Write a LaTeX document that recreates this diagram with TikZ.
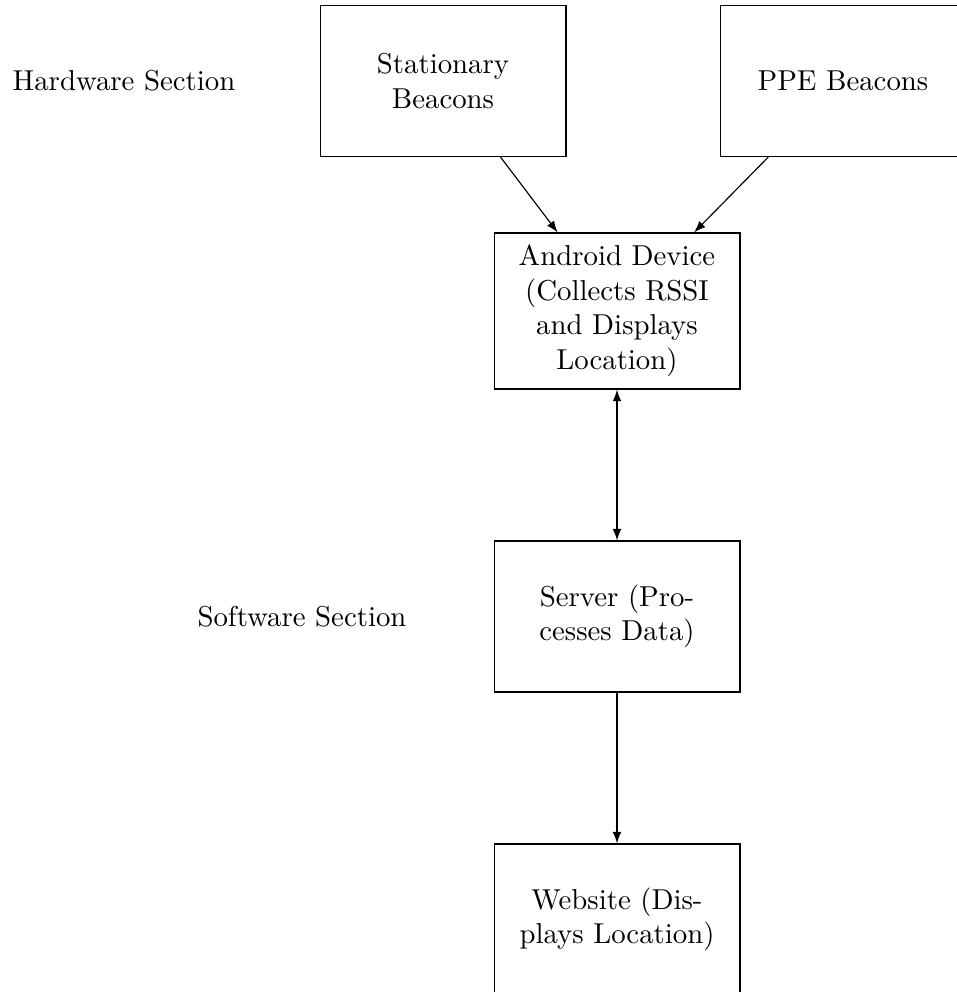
\documentclass[tikz,border=0pt]{standalone}
\usetikzlibrary{arrows.meta}
\begin{document}
\begin{tikzpicture}[x=0.34722pt,y=-0.34722pt,
  box/.style={draw, text width=2.5cm, align=center, minimum width=3cm, minimum height=52.4pt},
  arr/.style={-latex},
  lbl/.style={inner sep=0pt}]
\useasboundingbox (0,0) rectangle (957,992);
\node[box] (stat) at (443,81) {Stationary\\Beacons};
\node[box] (ppe) at (843,81) {PPE Beacons};
\node[box, minimum height=54.2pt] (andr) at (617,311) {Android Device\\(Collects RSSI\\and Displays\\Location)};
\node[box] (srv) at (617,616.5) {Server (Pro-\\cesses Data)};
\node[box] (web) at (617,919.5) {Website (Dis-\\plays Location)};
\node[lbl] (hw) at (124,81) {Hardware Section};
\node[lbl] (sw) at (302,617) {Software Section};
\draw[arr] (stat) -- (andr);
\draw[arr] (ppe) -- (andr);
\draw[latex-latex] (andr) -- (srv);
\draw[arr] (srv) -- (web);
\end{tikzpicture}
\end{document}
